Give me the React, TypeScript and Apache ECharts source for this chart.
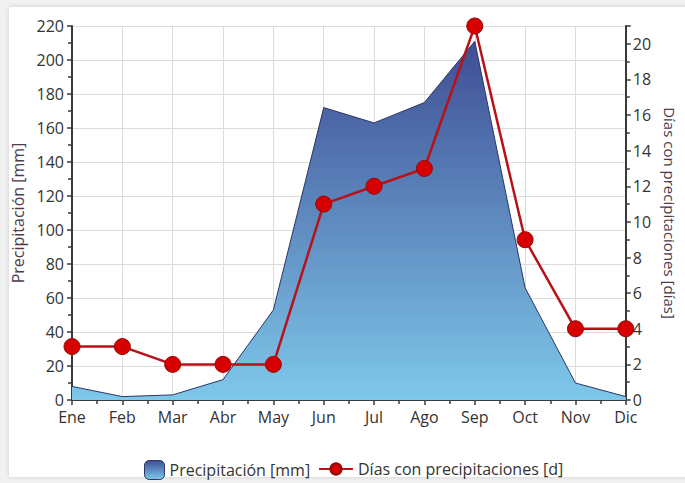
import React, { useEffect, useRef } from "react";
import * as echarts from "echarts";

const months = ["Ene", "Feb", "Mar", "Abr", "May", "Jun", "Jul", "Ago", "Sep", "Oct", "Nov", "Dic"];
const precipitation = [8, 2, 3, 12, 53, 172, 163, 175, 211, 66, 10, 2];
const rainDays = [3, 3, 2, 2, 2, 11, 12, 13, 21, 9, 4, 4];

const FONT = "'Open Sans', 'Noto Sans', sans-serif";

export default function App() {
  const ref = useRef<HTMLDivElement>(null);
  useEffect(() => {
    if (!ref.current) return;
    document.body.style.margin = "0";
    document.body.style.overflow = "hidden";
    const chart = echarts.init(ref.current, null, { renderer: "svg", width: 685, height: 483 });
    const axisLine = { show: true, lineStyle: { color: "#3a3a3a", width: 2 } };
    const tick = { show: true, length: 5, lineStyle: { color: "#3a3a3a", width: 1.5 } };
    const minor = { show: true, splitNumber: 2, length: 4, lineStyle: { color: "#3a3a3a", width: 1.5 } };
    const gradient = () =>
      new echarts.graphic.LinearGradient(0, 0, 0, 1, [
        { offset: 0, color: "#3f4d94" },
        { offset: 1, color: "#7ec8ea" },
      ]);
    chart.setOption({
      animation: false,
      backgroundColor: "transparent",
      textStyle: { fontFamily: FONT },
      grid: { left: 72, right: 49, top: 26, bottom: 83 },
      graphic: [
        {
          type: "rect",
          shape: { x: 0, y: 0, width: 685, height: 483 },
          style: { fill: "#f1f1f1" },
          silent: true,
          z: -10,
        },
        {
          type: "rect",
          shape: { x: 9, y: 7, width: 680, height: 470 },
          style: { fill: "#ffffff", shadowBlur: 4, shadowColor: "rgba(0,0,0,0.15)" },
          silent: true,
          z: -9,
        },
      ],
      legend: [
        {
          left: 139,
          top: 455,
          itemWidth: 20,
          itemHeight: 19,
          itemGap: 6,
          textStyle: { fontSize: 16, color: "#333", fontFamily: FONT },
          data: [
            {
              name: "Precipitación [mm]",
              icon: "roundRect",
              itemStyle: { color: gradient(), borderColor: "#2b3566", borderWidth: 1 },
            },
          ],
        },
        {
          left: 313,
          top: 456,
          itemWidth: 34,
          itemHeight: 14,
          textStyle: { fontSize: 16, color: "#333", fontFamily: FONT },
          data: [{ name: "Días con precipitaciones [d]" }],
        },
      ],
      xAxis: {
        type: "value",
        min: 0,
        max: 11,
        interval: 1,
        axisLine,
        axisTick: tick,
        minorTick: minor,
        splitLine: { show: true, lineStyle: { color: "#dcdcdc", width: 1 } },
        axisLabel: {
          color: "#333",
          fontSize: 16,
          margin: 9,
          formatter: (v: number) => months[Math.round(v)] ?? "",
        },
      },
      yAxis: [
        {
          type: "value",
          min: 0,
          max: 220,
          interval: 20,
          name: "Precipitación [mm]",
          nameLocation: "middle",
          nameGap: 30,
          nameTextStyle: { color: "#4d3a4d", fontSize: 16 },
          axisLine,
          axisTick: tick,
          minorTick: minor,
          splitLine: { show: true, lineStyle: { color: "#dcdcdc", width: 1 } },
          axisLabel: { color: "#333", fontSize: 16, margin: 8 },
        },
        {
          type: "value",
          min: 0,
          max: 21,
          interval: 2,
          position: "right",
          name: "Días con precipitaciones [días]",
          nameLocation: "middle",
          nameGap: 31,
          nameRotate: -90,
          nameTextStyle: { color: "#4d3a4d", fontSize: 15 },
          axisLine,
          axisTick: tick,
          minorTick: minor,
          splitLine: { show: false },
          axisLabel: { color: "#333", fontSize: 16, margin: 7, showMaxLabel: false },
        },
      ],
      series: [
        {
          name: "Precipitación [mm]",
          type: "line",
          yAxisIndex: 0,
          data: precipitation.map((v, i) => [i, v]),
          symbol: "none",
          lineStyle: { color: "#2b3566", width: 1 },
          itemStyle: { color: "#4a5aa0" },
          areaStyle: { opacity: 1, color: gradient() },
          z: 1,
        },
        {
          name: "Días con precipitaciones [d]",
          type: "line",
          yAxisIndex: 1,
          data: rainDays.map((v, i) => [i, v]),
          symbol: "circle",
          symbolSize: 16,
          lineStyle: { color: "#b81219", width: 2.5 },
          itemStyle: { color: "#d60000", borderColor: "#8e0a0a", borderWidth: 1 },
          z: 3,
        },
      ],
    });
    return () => chart.dispose();
  }, []);
  return (
    <div
      ref={ref}
      style={{ position: "absolute", left: 0, top: 0, width: 685, height: 483 }}
    />
  );
}
